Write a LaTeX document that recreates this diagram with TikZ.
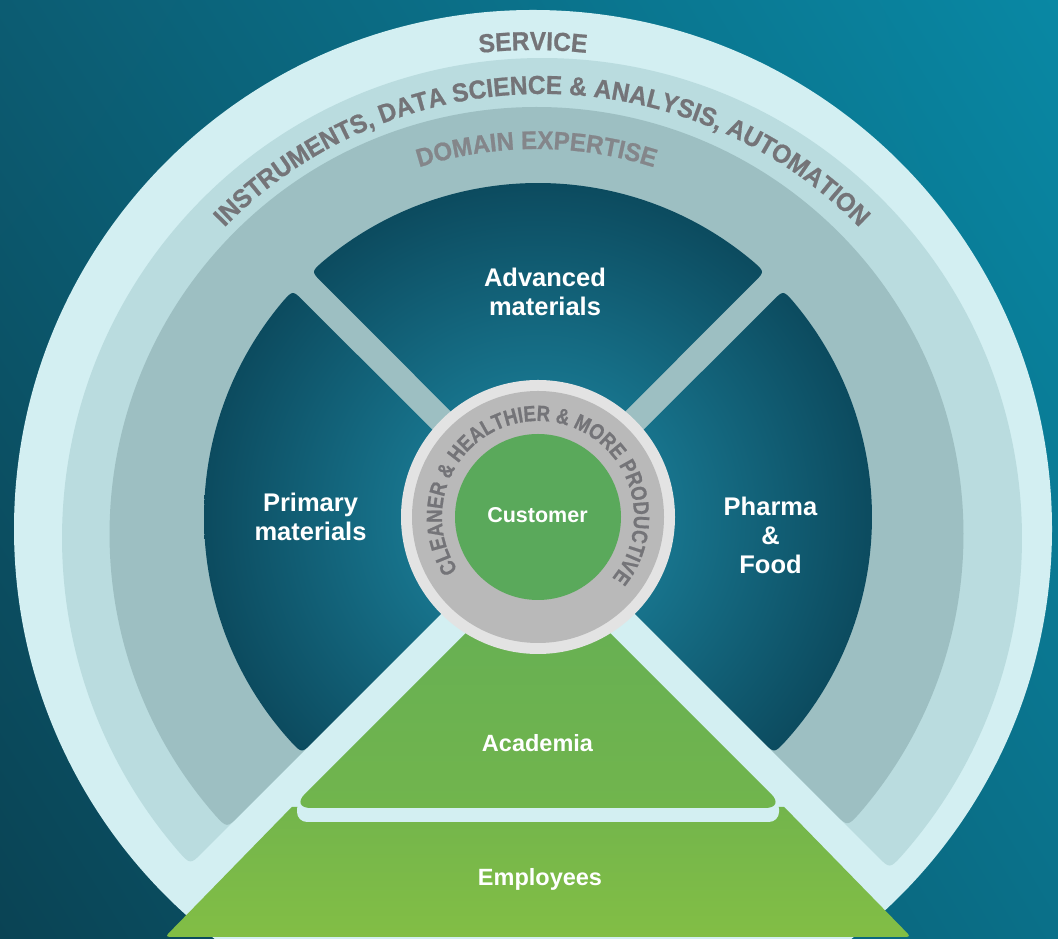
\documentclass[tikz,border=0pt]{standalone}
\usepackage{fontspec}
\setmainfont{Liberation Sans}
\newfontfamily\arcfont[FakeStretch=0.94, BoldFeatures={FakeBold=0.8}]{Liberation Sans}
\newfontfamily\ringfont[FakeStretch=0.84, BoldFeatures={FakeBold=0.8}]{Liberation Sans}
\usetikzlibrary{decorations.text,calc,shadings}
\definecolor{bgUL}{HTML}{0C5C72}
\definecolor{bgUR}{HTML}{0988A4}
\definecolor{bgLL}{HTML}{0A4354}
\definecolor{bgLR}{HTML}{0A7089}
\definecolor{ringA}{HTML}{D3EFF2}
\definecolor{ringB}{HTML}{BADCDF}
\definecolor{ringC}{HTML}{9DBFC2}
\definecolor{qin}{HTML}{18768F}
\definecolor{qout}{HTML}{0C4B5F}
\definecolor{grayRim}{HTML}{E3E3E3}
\definecolor{grayBand}{HTML}{B9B9B9}
\definecolor{custGreen}{HTML}{5AA95B}
\definecolor{acaTop}{HTML}{64AE55}
\definecolor{acaBot}{HTML}{71B54D}
\definecolor{empTop}{HTML}{73B54C}
\definecolor{empBot}{HTML}{82BE45}
\definecolor{arcText}{HTML}{747478}
\definecolor{arcTextB}{HTML}{84868A}
\pgfdeclareradialshading{quadglow}{\pgfpointorigin}{color(0bp)=(qin); color(9bp)=(qin); color(25bp)=(qout); color(50bp)=(qout)}
\newcommand{\arcfmt}{\color{arcText}\arcfont\bfseries\fontsize{26}{26}\selectfont}
\newcommand{\arcfmtB}{\color{arcTextB}\arcfont\bfseries\fontsize{25.5}{26}\selectfont}
\newcommand{\ringfmt}{\color{arcText}\ringfont\bfseries\fontsize{22}{22}\selectfont}
\tikzset{
  qlabel/.style={text=white, font=\bfseries\fontsize{25.5}{29}\selectfont, anchor=base, inner sep=0pt},
  clabel/.style={text=white, font=\bfseries\fontsize{21.5}{24}\selectfont, anchor=base, inner sep=0pt},
  glabel/.style={text=white, font=\bfseries\fontsize{23.5}{26}\selectfont, anchor=base, inner sep=0pt},
}
\begin{document}
\begin{tikzpicture}[x=1pt,y=1pt]
\useasboundingbox (0,0) rectangle (1058,939);
\clip (0,0) rectangle (1058,939);
\coordinate (C) at (538,422);
\coordinate (O0) at (533,410);
\coordinate (O1) at (542,401);
\coordinate (O2) at (536.5,405);
% background
\shade[upper left=bgUL, upper right=bgUR, lower left=bgLL, lower right=bgLR] (0,0) rectangle (1058,939);
% outer light circle (SERVICE)
\fill[ringA] (O0) circle[radius=519pt];
% band 2 (instruments)
\fill[ringB] (877.1,82.9) .. controls (889.8,70.2) .. ($(O1)+(-41.42:480pt)$)
  arc[start angle=-41.42, end angle=220.74, radius=480pt]
  .. controls (190.3,74.3) .. (203.0,87.0) -- (C) -- cycle;
% domain ring
\fill[ringC] (834.8,125.2) .. controls (847.5,112.5) .. ($(O2)+(-40.83:427pt)$)
  arc[start angle=-40.83, end angle=221.12, radius=427pt]
  .. controls (226.9,110.9) .. (239.6,123.6) -- (C) -- cycle;
% dark quadrants
\begin{scope}
\clip (538,440.4) -- (321.9,656.65) .. controls (311.29,667.26) .. ($(C)+(130.20:334pt)$)
    arc[start angle=130.20, end angle=49.80, radius=334pt]
    .. controls (764.71,667.26) .. (754.1,656.65) -- cycle
  (528.8,412.8) -- (303.35,638.1) .. controls (292.74,648.71) .. ($(C)+(139.80:334pt)$)
    arc[start angle=139.80, end angle=222.43, radius=334pt]
    .. controls (301.83,185.83) .. (312.44,196.44) -- cycle
  (547.2,412.8) -- (772.65,638.1) .. controls (783.26,648.71) .. ($(C)+(40.20:334pt)$)
    arc[start angle=40.20, end angle=-42.43, radius=334pt]
    .. controls (774.17,185.83) .. (763.56,196.44) -- cycle;
\shade[shading=quadglow] (C) circle[radius=334pt];
\end{scope}
% employees
\shade[top color=empTop, bottom color=empBot] (291.8,132) -- (784.2,132) -- (904.1,9.1)
  .. controls (911.2,2) .. (901.2,2) -- (174.8,2) .. controls (164.8,2) .. (171.9,9.1) -- cycle;
% strip between academia and employees
\fill[ringA, rounded corners=10pt] (297,117) rectangle (779,140);
% academia
\shade[top color=acaTop, bottom color=acaBot, rounded corners=20pt] (538,378.2) -- (785.2,131) -- (290.8,131) -- cycle;
% centre
\fill[grayRim] (C) circle[radius=137pt];
\fill[grayBand] (C) circle[radius=126pt];
\fill[custGreen] (C) circle[radius=83pt];
% labels
\node[qlabel] (adv1) at (545,652) {Advanced};
\node[qlabel] (adv2) at (545,623) {materials};
\node[qlabel] (pri1) at (310.5,427) {Primary};
\node[qlabel] (pri2) at (310.5,398) {materials};
\node[qlabel] (pha1) at (770.5,423) {Pharma};
\node[qlabel] (pha2) at (770.5,394) {\&};
\node[qlabel] (pha3) at (770.5,365) {Food};
\node[clabel] (cust) at (537.5,416) {Customer};
\node[glabel] (aca) at (537.5,187) {Academia};
\node[glabel] (emp) at (540,53) {Employees};
% arc texts
\path[decorate, decoration={text along path, text align=center, text={|\arcfmt|SERVICE}}]
  ($(O0)+(105:479pt)$) arc[start angle=105, end angle=75, radius=479pt];
\path[decorate, decoration={text along path, text align=center, text={|\arcfmt|INSTRUMENTS, DATA SCIENCE {\&} ANALYSIS, AUTOMATION}}]
  ($(O1)+(150:444pt)$) arc[start angle=150, end angle=30, radius=444pt];
\path[decorate, decoration={text along path, text align=center, text={|\arcfmtB|DOMAIN EXPERTISE}}]
  ($(O2)+(120:385pt)$) arc[start angle=120, end angle=60, radius=385pt];
\path[decorate, decoration={text along path, text align=center, text={|\ringfmt|CLEANER {\&} HEALTHIER {\&} MORE PRODUCTIVE}}]
  ($(C)+(222:96pt)$) arc[start angle=222, end angle=-48, radius=96pt];
\end{tikzpicture}
\end{document}
